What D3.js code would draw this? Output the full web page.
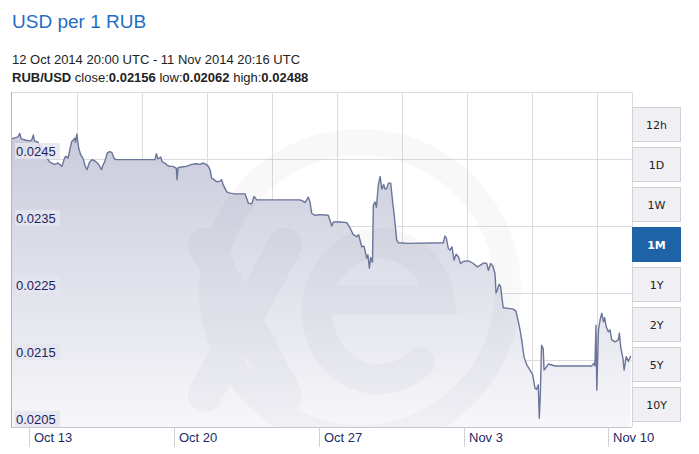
<!DOCTYPE html>
<html>
<head>
<meta charset="utf-8">
<script src="https://cdn.jsdelivr.net/npm/d3@7"></script>
<style>
body { margin: 0; background: #fff; font-family: "Liberation Sans", Arial, sans-serif; }
</style>
</head>
<body>
<svg id="chart" width="699" height="454"></svg>
<script>
// days since 12 Oct 2014 00:00 UTC
var days = [0.145,0.468,0.551,0.628,0.870,1.034,1.130,1.208,1.266,1.435,1.614,1.822,2.015,2.242,2.402,2.595,2.725,2.788,2.885,2.967,
  3.064,3.127,3.209,3.248,3.310,3.402,3.499,3.610,3.721,3.803,3.934,4.045,4.190,4.301,4.383,4.504,4.577,4.659,4.784,4.900,
  4.997,5.108,5.205,7.090,7.153,7.235,7.366,7.428,7.559,7.670,7.800,7.960,8.120,8.154,8.202,8.362,8.603,8.855,9.072,9.265,
  9.425,9.556,9.667,9.749,9.831,9.909,10.073,10.232,10.305,10.392,10.556,10.716,10.958,11.44,11.522,11.599,11.764,11.875,12.006,14.097,
  14.24,14.34,14.50,14.58,14.66,14.82,15.06,15.46,15.54,15.63,15.71,16.03,16.36,16.52,16.67,16.84,16.93,17.08,17.19,17.32,
  17.38,17.45,17.51,17.60,17.64,17.72,17.79,17.88,17.97,18.05,18.14,18.21,18.29,18.37,18.48,18.58,18.64,18.77,18.85,19.33,
  21.02,21.10,21.17,21.26,21.34,21.44,21.54,21.64,21.75,21.86,21.99,22.15,22.31,22.47,22.67,22.83,22.99,23.12,23.20,23.31,
  23.42,23.52,23.57,23.63,23.72,23.79,23.85,23.92,24.16,24.40,24.53,24.65,24.73,24.81,24.92,25.05,25.21,25.34,25.45,25.52,
  25.61,25.66,25.71,25.77,25.85,25.89,26.02,26.10,26.42,28.19,28.30,28.35,28.40,28.44,28.52,28.60,28.68,28.76,28.82,28.89,
  29.00,29.08,29.16,29.32,29.48,29.53,29.60,29.70,29.76,29.86,29.97,30.08];
var rates = [0.02480,0.02483,0.02488,0.02480,0.02478,0.02477,0.02478,0.02486,0.02477,0.02475,0.02463,0.02453,0.02445,0.02442,0.02444,0.02439,0.02452,0.02454,0.02451,0.02463,
  0.02476,0.02478,0.02481,0.02475,0.02487,0.02466,0.02456,0.02451,0.02439,0.02434,0.02446,0.02449,0.02447,0.02444,0.02441,0.02434,0.02441,0.02446,0.02459,0.02461,
  0.02460,0.02451,0.02449,0.02449,0.02458,0.02450,0.02453,0.02446,0.02444,0.02441,0.02439,0.02439,0.02436,0.02419,0.02437,0.02438,0.02439,0.02442,0.02443,0.02442,
  0.02444,0.02442,0.02439,0.02434,0.02421,0.02420,0.02416,0.02417,0.02419,0.02411,0.02401,0.02399,0.02398,0.02398,0.02391,0.02384,0.02383,0.02394,0.02389,0.02389,
  0.02387,0.02385,0.02393,0.02386,0.02369,0.02366,0.02367,0.02366,0.02359,0.02350,0.02356,0.02356,0.02355,0.02347,0.02337,0.02334,0.02337,0.02319,0.02320,0.02302,
  0.02307,0.02287,0.02303,0.02296,0.02381,0.02386,0.02378,0.02411,0.02424,0.02405,0.02412,0.02405,0.02406,0.02414,0.02414,0.02384,0.02369,0.02329,0.02325,0.02324,
  0.02325,0.02335,0.02332,0.02317,0.02314,0.02319,0.02299,0.02308,0.02304,0.02294,0.02297,0.02298,0.02297,0.02294,0.02289,0.02292,0.02295,0.02294,0.02284,0.02294,
  0.02290,0.02279,0.02250,0.02254,0.02263,0.02260,0.02244,0.02228,0.02227,0.02226,0.02223,0.02207,0.02195,0.02180,0.02155,0.02143,0.02135,0.02128,0.02108,0.02106,
  0.02113,0.02063,0.02098,0.02172,0.02167,0.02135,0.02140,0.02144,0.02141,0.02141,0.02145,0.02141,0.02202,0.02105,0.02195,0.02210,0.02220,0.02207,0.02213,0.02200,
  0.02192,0.02195,0.02180,0.02177,0.02180,0.02190,0.02168,0.02153,0.02135,0.02155,0.02148,0.02156];

var yTicks = [0.0205, 0.0215, 0.0225, 0.0235, 0.0245];
var xTickDates = ["2014-10-13", "2014-10-20", "2014-10-27", "2014-11-03", "2014-11-10"];
var xTickLabels = ["Oct 13", "Oct 20", "Oct 27", "Nov 3", "Nov 10"];
var ranges = ["12h", "1D", "1W", "1M", "1Y", "2Y", "5Y", "10Y"];
var activeRange = "1M";

var svg = d3.select("#chart");
var pLeft = 11, pRight = 632, pTop = 92, pBottom = 427;
var t0 = Date.UTC(2014, 9, 12);

var x = d3.scaleUtc()
    .domain([new Date(Date.UTC(2014, 9, 12, 3, 7)), new Date(Date.UTC(2014, 10, 11, 3, 23))])
    .range([pLeft, pRight]);
var y = d3.scaleLinear().domain([0.0205, 0.0255]).range([pBottom, pTop]);

var data = days.map(function(d, i) {
    return { date: new Date(t0 + d * 86400000), value: rates[i] };
});

// header
svg.append("text").attr("x", 12).attr("y", 28)
    .attr("fill", "#1f6ec4").attr("font-size", 19).text("USD per 1 RUB");
svg.append("text").attr("x", 12).attr("y", 64)
    .attr("fill", "#222").attr("font-size", 13)
    .text("12 Oct 2014 20:00 UTC - 11 Nov 2014 20:16 UTC");
var info = svg.append("text").attr("x", 12).attr("y", 82)
    .attr("fill", "#222").attr("font-size", 13);
info.append("tspan").attr("font-weight", "bold").text("RUB/USD");
info.append("tspan").text(" close:");
info.append("tspan").attr("font-weight", "bold").text("0.02156");
info.append("tspan").text(" low:");
info.append("tspan").attr("font-weight", "bold").text("0.02062");
info.append("tspan").text(" high:");
info.append("tspan").attr("font-weight", "bold").text("0.02488");

// gradient for the area
var defs = svg.append("defs");
var grad = defs.append("linearGradient").attr("id", "fillGrad")
    .attr("gradientUnits", "userSpaceOnUse")
    .attr("x1", 0).attr("y1", pTop).attr("x2", 0).attr("y2", pBottom);
grad.append("stop").attr("offset", "0%").attr("stop-color", "#c2c5d7");
grad.append("stop").attr("offset", "100%").attr("stop-color", "#f7f7fa");
defs.append("clipPath").attr("id", "plotClip").append("rect")
    .attr("x", pLeft).attr("y", pTop).attr("width", pRight - pLeft).attr("height", pBottom - pTop);

// grid
var vgrid = d3.range(1, 10).map(function(i) { return 12 + 65 * i; });
svg.selectAll(".vgrid").data(vgrid).enter().append("line")
    .attr("x1", function(d) { return d + 0.5; }).attr("x2", function(d) { return d + 0.5; })
    .attr("y1", pTop).attr("y2", pBottom)
    .attr("stroke", "#dcdce0").attr("stroke-width", 1);
svg.selectAll(".hgrid").data(yTicks.slice(1).concat([0.0255])).enter().append("line")
    .attr("x1", pLeft).attr("x2", pRight)
    .attr("y1", function(d) { return Math.round(y(d)) + 0.5; }).attr("y2", function(d) { return Math.round(y(d)) + 0.5; })
    .attr("stroke", "#dcdce0").attr("stroke-width", 1);
svg.append("line").attr("x1", pRight + 0.5).attr("x2", pRight + 0.5).attr("y1", pTop).attr("y2", pBottom)
    .attr("stroke", "#dcdce0");

// area + line
var area = d3.area().x(function(d) { return x(d.date); })
    .y0(pBottom).y1(function(d) { return y(d.value); });
var line = d3.line().x(function(d) { return x(d.date); })
    .y(function(d) { return y(d.value); });

svg.append("path").datum(data).attr("d", area).attr("fill", "url(#fillGrad)");

// watermark (faint xe logo)
var wm = svg.append("g").attr("clip-path", "url(#plotClip)")
    .attr("opacity", 0.03).attr("stroke", "#3a4070").attr("fill", "none");
wm.append("circle").attr("cx", 360).attr("cy", 290).attr("r", 148).attr("stroke-width", 26);
wm.append("path").attr("d", "M205,245 L285,395 M285,245 L205,395")
    .attr("stroke-width", 34).attr("stroke-linecap", "round");
wm.append("path").attr("d", "M318,300 L440,300 A62,68 0 1 0 420,362")
    .attr("stroke-width", 30).attr("stroke-linecap", "round");

svg.append("path").datum(data).attr("d", line)
    .attr("fill", "none").attr("stroke", "#6b7499").attr("stroke-width", 1.4)
    .attr("stroke-linejoin", "round");

// axes lines
svg.append("line").attr("x1", pLeft + 0.5).attr("x2", pLeft + 0.5).attr("y1", pTop).attr("y2", pBottom)
    .attr("stroke", "#aeb2c6");
svg.append("line").attr("x1", pLeft).attr("x2", pRight).attr("y1", pBottom + 0.5).attr("y2", pBottom + 0.5)
    .attr("stroke", "#c4c6d2");

// y labels
var yl = svg.selectAll(".ylab").data(yTicks).enter().append("g");
yl.append("rect").attr("x", 15).attr("width", 45)
    .attr("y", function(d) { return y(d) - 16; }).attr("height", 16)
    .attr("fill", "#e4e5ef").attr("opacity", 0.85);
yl.append("text").attr("x", 16).attr("y", function(d) { return y(d) - 3; })
    .attr("font-size", 13).attr("fill", "#1d225e")
    .text(function(d) { return d3.format(".4f")(d); });

// x ticks
var xt = svg.selectAll(".xtick").data(xTickDates).enter().append("g")
    .attr("transform", function(d) { return "translate(" + Math.round(x(new Date(d + "T00:00:00Z"))) + ",0)"; });
xt.append("line").attr("x1", 0.5).attr("x2", 0.5).attr("y1", pBottom).attr("y2", pBottom + 20)
    .attr("stroke", "#d0d0d8");
xt.append("text").attr("x", 5).attr("y", 442).attr("font-size", 13).attr("fill", "#1d2a66")
    .text(function(d, i) { return xTickLabels[i]; });

// range buttons
var btn = svg.selectAll(".btn").data(ranges).enter().append("g")
    .attr("transform", function(d, i) { return "translate(632," + (107 + 40 * i) + ")"; });
btn.append("rect").attr("x", 0.5).attr("y", 0.5).attr("width", 48).attr("height", 34)
    .attr("fill", function(d) { return d === activeRange ? "#1e63a6" : "#f0f0f4"; })
    .attr("stroke", function(d) { return d === activeRange ? "#1e63a6" : "#d0d0d6"; });
btn.append("text").attr("x", 24.5).attr("y", 22).attr("text-anchor", "middle")
    .attr("font-family", "DejaVu Sans, Verdana, sans-serif").attr("font-size", 11)
    .attr("font-weight", function(d) { return d === activeRange ? "bold" : "normal"; })
    .attr("fill", function(d) { return d === activeRange ? "#fff" : "#222"; })
    .text(function(d) { return d; });
</script>
</body>
</html>
